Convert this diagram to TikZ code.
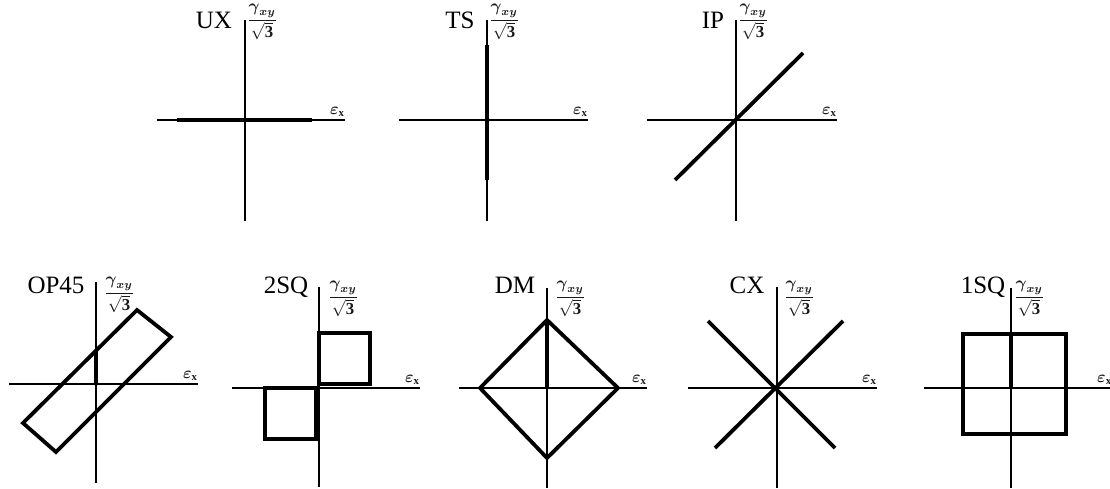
\documentclass[tikz,border=0pt]{standalone}
\usepackage{amsmath,amssymb}
\usepackage{graphicx}
\usepackage{fontspec}
\setmainfont{Liberation Serif}
\begin{document}
\begin{tikzpicture}[x=1pt,y=-1pt,
  axis/.style={line width=1.5pt},
  curve/.style={line width=3.8pt, line join=miter},
  title/.style={font=\fontsize{25}{27}\selectfont, anchor=base, inner sep=0pt},
  gam/.style={font=\fontsize{12}{14}\selectfont, inner sep=0pt, text=black!90},
  eps/.style={font=\fontsize{12}{14}\selectfont, anchor=base east, inner sep=0pt, text=black!90}]
\useasboundingbox (0,0) rectangle (1110,488);
\newcommand{\gxy}{\scalebox{1.4}{$\displaystyle\frac{\boldsymbol{\gamma}_{\boldsymbol{xy}}}{\sqrt{\mathbf{3}}}$}}
\newcommand{\epx}{\scalebox{1.35}{$\boldsymbol{\varepsilon}_{\mathbf{x}}$}}

% ---------- UX
\coordinate (o1) at (245,120);
\draw[axis] (245,20) -- (245,221);
\draw[axis] (157,120) -- (345,120);
\draw[curve] (177,120) -- (312,120);
\node[title] (t1) at (214,28) {UX};
\node[gam] (f1) at (262,22) {\gxy};
\node[eps] (e1) at (345,114) {\epx};

% ---------- TS
\coordinate (o2) at (487,120);
\draw[axis] (487,20) -- (487,221);
\draw[axis] (399,120) -- (588,120);
\draw[curve] (487,45) -- (487,180);
\node[title] (t2) at (460,28) {TS};
\node[gam] (f2) at (504,22) {\gxy};
\node[eps] (e2) at (588,114) {\epx};

% ---------- IP
\coordinate (o3) at (736,120);
\draw[axis] (736,20) -- (736,221);
\draw[axis] (647,120) -- (837,120);
\draw[curve] (675,180) -- (803,53);
\node[title] (t3) at (713,28) {IP};
\node[gam] (f3) at (753,22) {\gxy};
\node[eps] (e3) at (837,114) {\epx};

% ---------- OP45
\coordinate (o4) at (96,384);
\draw[axis] (96,282) -- (96,483);
\draw[axis] (9,384) -- (198,384);
\draw[curve] (137,310) -- (171,337) -- (56,452) -- (23,423) -- cycle;
\draw[curve] (96,384) -- (96,351);
\node[title] (t4) at (56,293) {OP45};
\node[gam] (f4) at (119,295) {\gxy};
\node[eps] (e4) at (198,378) {\epx};

% ---------- 2SQ
\coordinate (o5) at (319,388);
\draw[axis] (319,287) -- (319,487);
\draw[axis] (232,388) -- (420,388);
\draw[curve] (319,333) rectangle (370,384);
\draw[curve] (265,388) rectangle (316,439);
\node[title] (t5) at (286,293) {2SQ};
\node[gam] (f5) at (343,299) {\gxy};
\node[eps] (e5) at (420,382) {\epx};

% ---------- DM
\coordinate (o6) at (547,388);
\draw[axis] (547,288) -- (547,488);
\draw[axis] (459,388) -- (647,388);
\draw[curve] (547,320) -- (618,388) -- (547,458) -- (480,388) -- cycle;
\draw[curve] (547,320) -- (547,388);
\node[title] (t6) at (515,293) {DM};
\node[gam] (f6) at (570,299) {\gxy};
\node[eps] (e6) at (647,382) {\epx};

% ---------- CX
\coordinate (o7) at (777,388);
\draw[axis] (777,287) -- (777,488);
\draw[axis] (688,388) -- (877,388);
\draw[curve] (708,321) -- (835,448);
\draw[curve] (843,321) -- (715,448);
\node[title] (t7) at (747,293) {CX};
\node[gam] (f7) at (799,299) {\gxy};
\node[eps] (e7) at (877,382) {\epx};

% ---------- 1SQ
\coordinate (o8) at (1011,388);
\draw[axis] (1011,288) -- (1011,488);
\draw[axis] (924,388) -- (1110,388);
\draw[curve] (963,334) rectangle (1066,434);
\draw[curve] (1011,334) -- (1011,388);
\node[title] (t8) at (983,293) {1SQ};
\node[gam] (f8) at (1029,299) {\gxy};
\node[eps, anchor=base west] (e8) at (1097,382) {\epx};
\end{tikzpicture}
\end{document}
